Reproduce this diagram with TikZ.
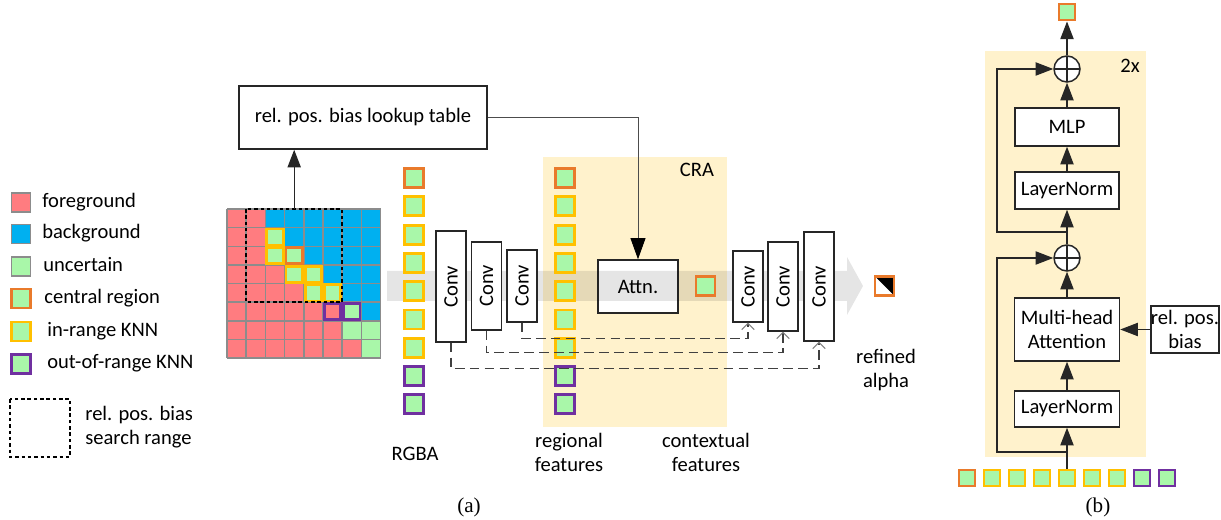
\documentclass[tikz,border=0pt]{standalone}
\usepackage{fontspec}
\setmainfont{Carlito}
\newfontfamily\capfont{Liberation Serif}
\usepackage{tikz}
\usetikzlibrary{arrows.meta,positioning,calc}

\definecolor{fgred}{HTML}{FF7C80}
\definecolor{bgblue}{HTML}{00B0F0}
\definecolor{uncgreen}{HTML}{A9F7A9}
\definecolor{ctrorange}{HTML}{E97A2B}
\definecolor{knnyellow}{HTML}{FFC000}
\definecolor{oorpurple}{HTML}{7030A0}
\definecolor{crabeige}{HTML}{FFF2CC}
\definecolor{gridgray}{HTML}{8C8C8C}

\begin{document}
\begin{tikzpicture}[x=0.02cm,y=-0.02cm,
	font=\fontsize{11.7pt}{13.5pt}\selectfont,
	tok/.style={draw=#1,fill=uncgreen,line width=1.6pt,minimum size=0.38cm,inner sep=0pt},
	smalltok/.style={draw=#1,fill=uncgreen,line width=1.4pt,minimum size=0.33cm,inner sep=0pt},
	cell/.style={draw=gridgray,line width=0.8pt,fill=#1,minimum size=0.38cm,inner sep=0pt},
	box/.style={draw=black!85,line width=0.85pt,fill=white,inner sep=0pt},
	convbox/.style={box,minimum width=0.6cm},
	plusnode/.style={circle,draw=black!85,line width=0.85pt,fill=white,minimum size=0.52cm,inner sep=0pt,
		path picture={\draw[black!85,line width=0.85pt] (path picture bounding box.north) -- (path picture bounding box.south)
			(path picture bounding box.west) -- (path picture bounding box.east);}},
	arr/.style={black!85,line width=0.75pt,-{Triangle[length=10pt,width=7.5pt]}},
	skip/.style={draw=black!75,line width=0.6pt,dash pattern=on 5.5pt off 3pt,-{Straight Barb[color=gray,length=3.5pt,width=7pt]}},
	lbl/.style={inner sep=0pt,anchor=base west},
	txt/.style={inner sep=0pt,anchor=base,align=center}]
\useasboundingbox (0,0) rectangle (1221,520);

% legend
\node[cell=fgred] (lfg) at (21,202.5) {};
\node[lbl] (tfg) at (42,207.5) {foreground};
\node[cell=bgblue] (lbg) at (21,234) {};
\node[lbl] (tbg) at (42,239) {background};
\node[cell=uncgreen] (lun) at (21,266.5) {};
\node[lbl] (tun) at (43,271.5) {uncertain};
\node[tok=ctrorange] (lctr) at (21,298.5) {};
\node[lbl] (tctr) at (44,303.5) {central region};
\node[tok=knnyellow] (lin) at (21,331.5) {};
\node[lbl] (tin) at (47,336.5) {in-range KNN};
\node[tok=oorpurple] (lout) at (21,364) {};
\node[lbl] (tout) at (47,369) {out-of-range KNN};
\draw[line width=1.1pt,dash pattern=on 2pt off 1.6pt] (10,399) rectangle (70,457);
\node[lbl,align=left] (trange) at (85,444) {rel. pos. bias\\search range};

% alpha map with knn
\begin{scope}[shift={(227,209)},x=0.384cm,y=-0.373cm]
	\fill[fgred] (0,0) rectangle (8,8);
	\foreach \r/\s in {0/2,1/3,2/4,3/5,4/6,5/7}
		\fill[bgblue] (\s,\r) rectangle (8,\r+1);
	\foreach \c/\r in {2/1,2/2,3/2,3/3,4/3,4/4,5/4,6/5,6/6,7/6,7/7}
		\fill[uncgreen] (\c,\r) rectangle ++(1,1);
	\foreach \i in {0,...,8}{
		\draw[gridgray,line width=0.9pt] (\i,0) -- (\i,8);
		\draw[gridgray,line width=0.9pt] (0,\i) -- (8,\i);
	}
	\foreach \c/\r in {2/1,2/2,3/3,4/3,4/4,5/4}
		\draw[knnyellow,line width=1.6pt] (\c+0.07,\r+0.07) rectangle (\c+0.93,\r+0.93);
	\draw[ctrorange,line width=1.6pt] (3.07,2.07) rectangle (3.93,2.93);
	\foreach \c/\r in {5/5,6/5}
		\draw[oorpurple,line width=1.6pt] (\c+0.07,\r+0.07) rectangle (\c+0.93,\r+0.93);
	\draw[line width=1.1pt,dash pattern=on 2pt off 1.6pt] (1,0) rectangle (6,5);
	\coordinate (range) at (3.5,0);
\end{scope}

\node[box,minimum width=4.96cm,minimum height=1.26cm] (lut) at (363,117.5) {rel. pos. bias lookup table};
\draw[arr] (range) -- (range |- lut.south);

% CRA block and main path
\fill[crabeige] (543,157) rectangle (727,427);
\node[txt] (cra) at (697,177) {CRA};
\node[box,minimum width=1.6cm,minimum height=1.06cm] (attn) at (638,286.5) {Attn.};
\fill[black,opacity=0.1] (387,271) -- (847,271) -- (847,257) -- (863,286) -- (847,315) -- (847,301) -- (387,301) -- cycle;
\draw[black!70,line width=0.5pt,-{Triangle[length=12pt,width=8.5pt,color=black]}] (lut.east) -| (attn.north);

\foreach \clr [count=\i] in {ctrorange,knnyellow,knnyellow,knnyellow,knnyellow,knnyellow,knnyellow,oorpurple,oorpurple}{
	\node[tok=\clr] (rgba\i) at (414,{178+28.3*(\i-1)}) {};
	\node[tok=\clr] (reg\i) at (565,{178+28.3*(\i-1)}) {};
}

\node[convbox,minimum height=2.22cm] (conv1) at (451,286.5) {\rotatebox{90}{Conv}};
\node[convbox,minimum height=1.76cm] (conv2) at (486.5,286) {\rotatebox{90}{Conv}};
\node[convbox,minimum height=1.44cm] (conv3) at (522,286) {\rotatebox{90}{Conv}};
\node[convbox,minimum height=1.42cm] (conv4) at (748,286.5) {\rotatebox{90}{Conv}};
\node[convbox,minimum height=1.78cm] (conv5) at (783,286.5) {\rotatebox{90}{Conv}};
\node[convbox,minimum height=2.18cm] (conv6) at (819,286.5) {\rotatebox{90}{Conv}};
\draw[skip] (conv3.south) -- ++(0,16) -| (conv4.south);
\draw[skip] (conv2.south) -- ++(0,22) -| (conv5.south);
\draw[skip] (conv1.south) -- ++(0,26) -| (conv6.south);

\node[tok=ctrorange] (ctx) at (705.5,286) {};
\node[tok=ctrorange,fill=white,path picture={\fill[black] (path picture bounding box.north west) -- (path picture bounding box.north east) -- (path picture bounding box.south east) -- cycle;}] (alpha) at (884.5,286) {};

\node[txt] (trgba) at (415,460) {RGBA};
\node[txt] (treg) at (569,471) {regional\\features};
\node[txt] (tctx) at (706,471) {contextual\\features};
\node[txt] (talpha) at (886,387) {refined\\alpha};
\node[font=\fontsize{12pt}{13pt}\capfont] (capa) at (469,507) {(a)};

% transformer block
\fill[crabeige] (985,51) rectangle (1146,457);
\node[txt] (rep) at (1130,73) {2x};
\node[smalltok=ctrorange] (out) at (1067,12) {};
\node[plusnode] (plus1) at (1067,69) {};
\node[box,minimum width=2.08cm,minimum height=0.76cm] (mlp) at (1067,127) {MLP};
\node[box,minimum width=2.08cm,minimum height=0.74cm] (ln2) at (1067,190.5) {LayerNorm};
\node[plusnode] (plus2) at (1067,258) {};
\node[box,minimum width=2.1cm,minimum height=1.26cm,align=center] (mha) at (1067,329.5) {Multi-head\\Attention};
\node[box,minimum width=2.1cm,minimum height=0.72cm] (ln1) at (1067,409) {LayerNorm};
\node[box,minimum width=1.36cm,minimum height=0.94cm,align=center] (bias) at (1185,329.5) {rel. pos.\\bias};

\foreach \clr [count=\i] in {ctrorange,knnyellow,knnyellow,knnyellow,knnyellow,knnyellow,knnyellow,oorpurple,oorpurple}
	\node[smalltok=\clr] (tk\i) at ({967+25*(\i-1)},478) {};

\coordinate (sk1) at (1067,452);
\coordinate (sk2) at (1067,232);
\draw[arr] (tk5.north) -- (ln1.south);
\draw[arr] (sk1) -- ++(-70,0) |- (plus2.west);
\draw[arr] (ln1) -- (mha);
\draw[arr] (bias) -- (mha);
\draw[arr] (mha) -- (plus2);
\draw[arr] (plus2) -- (ln2);
\draw[arr] (sk2) -- ++(-70,0) |- (plus1.west);
\draw[arr] (ln2) -- (mlp);
\draw[arr] (mlp) -- (plus1);
\draw[arr] (plus1) -- (out);
\node[font=\fontsize{12pt}{13pt}\capfont] (capb) at (1098,507) {(b)};
\end{tikzpicture}
\end{document}
